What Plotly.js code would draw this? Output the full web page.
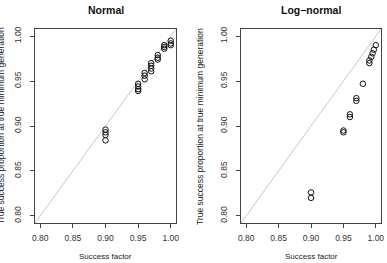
<!DOCTYPE html>
<html>
<head>
<meta charset="utf-8">
<script src="https://cdn.plot.ly/plotly-3.0.1.min.js"></script>
<style>html,body{margin:0;padding:0;background:#fff;}#chart{width:387px;height:263px;}</style>
</head>
<body>
<div id="chart"></div>
<script>
// Success factor vs. true success proportion at the true minimum generation
const normalX = [0.90, 0.90, 0.90, 0.90,
                 0.95, 0.95, 0.95, 0.95,
                 0.96, 0.96, 0.96,
                 0.97, 0.97, 0.97, 0.97,
                 0.98, 0.98, 0.98,
                 0.99, 0.99, 0.99,
                 1.00, 1.00, 1.00];
const normalY = [0.896, 0.893, 0.890, 0.884,
                 0.947, 0.944, 0.941, 0.939,
                 0.959, 0.956, 0.952,
                 0.970, 0.967, 0.964, 0.961,
                 0.979, 0.976, 0.974,
                 0.990, 0.988, 0.986,
                 0.995, 0.992, 0.990];

const lognormX = [0.90, 0.90, 0.95, 0.95, 0.96, 0.96, 0.97, 0.97, 0.98,
                  0.99, 0.99, 0.993, 0.995, 0.997, 1.00];
const lognormY = [0.826, 0.820, 0.895, 0.893, 0.913, 0.910, 0.931, 0.928, 0.947,
                  0.970, 0.973, 0.977, 0.981, 0.985, 0.990];

// identity reference line y = x across the axis range
const axisRange = [0.792, 1.008];
const tickVals = [0.80, 0.85, 0.90, 0.95, 1.00];
const tickText = ["0.80", "0.85", "0.90", "0.95", "1.00"];

const panelTitles = ["Normal", "Log\u2212normal"];
const xTitle = "Success factor";
const yTitle = "True success proportion at true minimum generation";

const font = "Liberation Sans, Arial, sans-serif";

function pts(x, y, xa, ya) {
  return {
    x: x, y: y, xaxis: xa, yaxis: ya, type: "scatter", mode: "markers",
    marker: {symbol: "circle-open", size: 5.5, color: "#111", line: {width: 1, color: "#111"}},
    hoverinfo: "skip"
  };
}
function diag(xa, ya) {
  return {
    x: axisRange, y: axisRange, xaxis: xa, yaxis: ya, type: "scatter", mode: "lines",
    line: {color: "#c8c8c8", width: 1}, hoverinfo: "skip"
  };
}

const axBase = {
  range: axisRange, tickvals: tickVals, ticktext: tickText,
  showgrid: false, zeroline: false, showline: true, mirror: true,
  linecolor: "#444", linewidth: 1, ticks: "outside", ticklen: 4,
  tickcolor: "#444", tickfont: {family: font, size: 8.5, color: "#333"}
};

function xax(domain, anchor) {
  return Object.assign({}, axBase, {domain: domain, anchor: anchor, ticklabelstandoff: 3});
}
function yax(domain, anchor) {
  return Object.assign({}, axBase, {domain: domain, anchor: anchor, tickangle: -90,
    ticklabelstandoff: 6});
}

const yDom = [1 - 223 / 263, 1 - 29 / 263];
const yMid = (yDom[0] + yDom[1]) / 2;

const data = [
  diag("x", "y"), pts(normalX, normalY, "x", "y"),
  diag("x2", "y2"), pts(lognormX, lognormY, "x2", "y2")
];

function panelTitle(text, cx) {
  return {text: "<b>" + text + "</b>", xref: "paper", yref: "paper",
    x: cx / 387, y: 1 - 10 / 263, xanchor: "center", yanchor: "middle",
    showarrow: false, font: {family: font, size: 10.5, color: "#111"}};
}
// vertical y-axis title placed to the left of each panel's tick labels
function sideTitle(cx) {
  return {text: yTitle, xref: "paper", yref: "paper", x: cx / 387, y: yMid,
    xanchor: "center", yanchor: "middle", textangle: -90, showarrow: false,
    font: {family: font, size: 8.5, color: "#222"}};
}
// horizontal x-axis title centred under each panel
function bottomTitle(cx) {
  return {text: xTitle, xref: "paper", yref: "paper", x: cx / 387, y: 1 - 256 / 263,
    xanchor: "center", yanchor: "middle", showarrow: false,
    font: {family: font, size: 8, color: "#222"}};
}

const layout = {
  width: 387, height: 263,
  margin: {l: 0, r: 0, t: 0, b: 0},
  paper_bgcolor: "#fff", plot_bgcolor: "#fff",
  showlegend: false,
  xaxis: xax([35 / 387, 176 / 387], "y"),
  yaxis: yax(yDom, "x"),
  xaxis2: xax([241 / 387, 381 / 387], "y2"),
  yaxis2: yax(yDom, "x2"),
  annotations: [
    panelTitle(panelTitles[0], 105.5), panelTitle(panelTitles[1], 311),
    sideTitle(1), sideTitle(200),
    bottomTitle(105.5), bottomTitle(311)
  ]
};

Plotly.newPlot("chart", data, layout, {staticPlot: true, displayModeBar: false});
</script>
</body>
</html>
